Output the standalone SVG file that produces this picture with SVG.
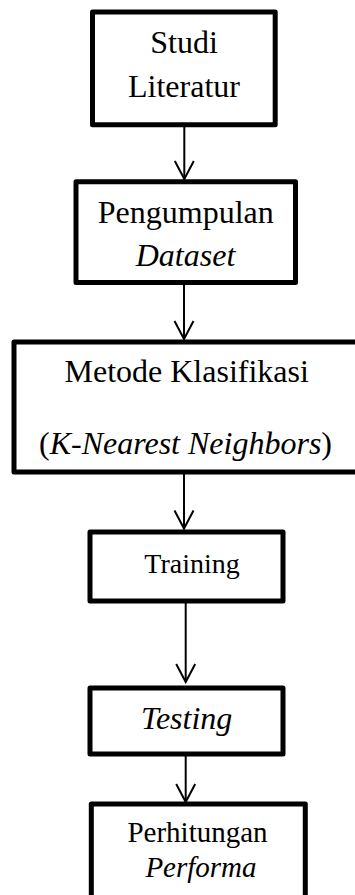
<svg xmlns="http://www.w3.org/2000/svg" width="355" height="895" viewBox="0 0 355 895">
<style>
.box{fill:#fff;stroke:#000;stroke-width:5;stroke-linejoin:round}
.t{font-family:"Liberation Serif","Times New Roman",serif;font-size:32px;fill:#000;text-anchor:middle}
.i{font-style:italic}
.conn{stroke:#000;stroke-width:2;fill:none}
</style>
<defs>
<marker id="ah" markerUnits="userSpaceOnUse" viewBox="-20 -12 22 24" markerWidth="22" markerHeight="24" refX="0" refY="0" orient="auto">
<path d="M-18,-9.5 L0,0 L-18,9.5" fill="none" stroke="#000" stroke-width="2"/>
</marker>
</defs>
<rect width="355" height="895" fill="#fff"/>
<g id="connectors">
<line class="conn" x1="184.3" y1="127" x2="184.3" y2="179" marker-end="url(#ah)"/>
<line class="conn" x1="184" y1="285" x2="184" y2="339" marker-end="url(#ah)"/>
<line class="conn" x1="184" y1="474" x2="184" y2="528.5" marker-end="url(#ah)"/>
<line class="conn" x1="185.7" y1="603" x2="185.7" y2="682" marker-end="url(#ah)"/>
<line class="conn" x1="185.7" y1="756" x2="185.7" y2="802" marker-end="url(#ah)"/>
</g>
<g id="studi-literatur">
<rect class="box" x="92.5" y="12" width="182.7" height="112.8"/>
<text class="t" x="184" y="52.7">Studi</text>
<text class="t" x="184" y="96.7">Literatur</text>
</g>
<g id="pengumpulan-dataset">
<rect class="box" x="76" y="181.7" width="219.5" height="100.8"/>
<text class="t" x="185.8" y="223.3">Pengumpulan</text>
<text class="t i" x="185.5" y="265.7">Dataset</text>
</g>
<g id="metode-klasifikasi">
<rect class="box" x="14" y="342" width="350" height="130"/>
<text class="t" x="186.7" y="381.7">Metode Klasifikasi</text>
<text class="t" x="185.5" y="454.3">(<tspan class="i">K-Nearest Neighbors</tspan>)</text>
</g>
<g id="training">
<rect class="box" x="90" y="532" width="193" height="69"/>
<text class="t" x="192" y="573.3" style="font-size:28px">Training</text>
</g>
<g id="testing">
<rect class="box" x="90" y="688" width="193" height="66"/>
<text class="t i" x="186.7" y="729.3">Testing</text>
</g>
<g id="perhitungan-performa">
<rect class="box" x="91.3" y="804" width="214" height="100"/>
<text class="t" x="197.5" y="842.3" style="font-size:29px">Perhitungan</text>
<text class="t i" x="201" y="876.7" style="font-size:29px">Performa</text>
</g>
</svg>
